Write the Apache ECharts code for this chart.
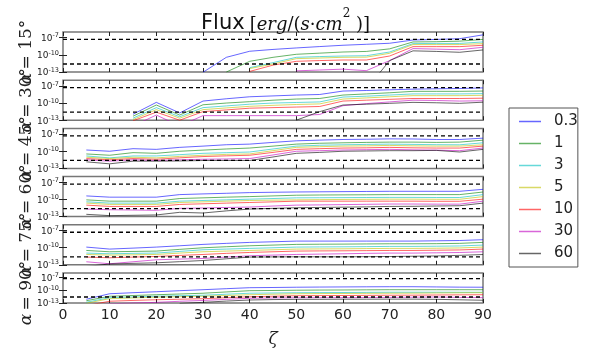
<!DOCTYPE html>
<html>
<head>
<meta charset="utf-8">
<script src="https://cdn.jsdelivr.net/npm/echarts@6/dist/echarts.min.js"></script>
<style>
  html, body { margin: 0; padding: 0; background: #fff; }
  #main { width: 598px; height: 349px; }
</style>
</head>
<body>
<div id="main"></div>
<script>
// zeta grid of the runs
var zeta = [5, 10, 15, 20, 25, 30, 35, 40, 45, 50, 55, 60, 65, 70, 75, 80, 85, 90];
var names = ['0.3', '1', '3', '5', '10', '30', '60'];
var colors = ['rgba(0,0,255,0.6)', 'rgba(0,128,0,0.6)', 'rgba(0,191,191,0.6)', 'rgba(191,191,0,0.6)',
              'rgba(255,0,0,0.6)', 'rgba(191,0,191,0.6)', 'rgba(0,0,0,0.6)'];
var alphas = [15, 30, 45, 60, 75, 90];
var yTicks = [1e-13, 1e-10, 1e-7];
var limits = [5e-8, 2.5e-12];   // dashed lines
var limitX = [0, 90];

// log10 of flux, one row per series (0.3, 1, 3, 5, 10, 30, 60), null = no point
var n = null;
var flux15 = [
  [n, n, n, n, n, -13.05, -10.43, -9.37, -9.05, -8.79, -8.55, -8.32, -8.15, -7.97, -7.4, -7.3, -7.17, -6.5],
  [n, n, n, n, n, n, -13.0, -11.13, -10.43, -9.9, -9.7, -9.5, -9.4, -8.95, -7.74, -7.7, -7.6, -7.3],
  [n, n, n, n, n, n, n, -12.24, -11.36, -10.43, -10.3, -10.2, -10.15, -9.5, -8.03, -8.0, -8.0, -7.74],
  [n, n, n, n, n, n, n, -12.4, -11.6, -10.66, -10.55, -10.43, -10.4, -9.73, -8.2, -8.2, -8.2, -8.03],
  [n, n, n, n, n, n, n, -12.9, -11.8, -11.13, -11.0, -10.9, -10.9, -10.2, -8.56, -8.56, -8.56, -8.32],
  [n, n, n, n, n, n, n, n, n, -12.8, -12.65, -12.5, -12.77, -11.0, -8.9, -9.0, -9.1, -8.67],
  [n, n, n, n, n, n, n, n, n, n, n, n, -16, -11.0, -9.3, -9.4, -9.55, -9.14]
];
var flux30 = [
  [n, n, -11.96, -9.88, -11.73, -9.65, -9.25, -8.9, -8.75, -8.6, -8.5, -7.9, -7.8, -7.68, -7.57, -7.5, -7.45, -7.35],
  [n, n, -12.3, -10.34, -12.1, -10.3, -10.0, -9.76, -9.5, -9.3, -9.2, -8.6, -8.4, -8.2, -7.95, -7.95, -7.95, -7.9],
  [n, n, -12.65, -10.8, -12.4, -10.8, -10.5, -10.2, -10.0, -9.9, -9.8, -8.95, -8.8, -8.6, -8.4, -8.4, -8.4, -8.35],
  [n, n, -12.9, -11.15, -12.65, -11.15, -10.85, -10.57, -10.4, -10.25, -10.15, -9.3, -9.1, -8.9, -8.7, -8.7, -8.7, -8.65],
  [n, n, -13.1, -11.6, -13.0, -11.5, -11.2, -10.9, -10.8, -10.7, -10.6, -9.65, -9.5, -9.35, -9.2, -9.2, -9.2, -9.15],
  [n, n, -14.0, -12.1, -14.0, -12.2, -12.2, -12.2, -12.2, -12.2, -12.0, -10.46, -10.1, -9.8, -9.5, -9.55, -9.65, -9.6],
  [n, n, n, n, n, n, n, n, n, -13.0, -11.5, -10.34, -10.2, -10.05, -9.88, -9.95, -10.05, -9.85]
];
var flux45 = [
  [-9.78, -10.0, -9.55, -9.67, -9.32, -9.1, -8.86, -8.75, -8.45, -8.17, -8.05, -7.94, -7.9, -7.83, -7.85, -7.94, -7.94, -7.71],
  [-10.47, -10.7, -10.24, -10.36, -10.0, -9.8, -9.6, -9.44, -9.1, -8.75, -8.6, -8.52, -8.45, -8.4, -8.4, -8.45, -8.4, -8.06],
  [-10.82, -11.16, -10.82, -10.82, -10.6, -10.36, -10.25, -10.13, -9.6, -9.1, -8.95, -8.87, -8.8, -8.75, -8.8, -8.85, -8.87, -8.52],
  [-11.05, -11.28, -11.05, -11.16, -10.9, -10.7, -10.55, -10.47, -9.9, -9.32, -9.2, -9.1, -9.05, -8.98, -9.05, -9.1, -9.1, -8.87],
  [-11.28, -11.5, -11.28, -11.4, -11.15, -10.93, -10.8, -10.7, -10.2, -9.67, -9.55, -9.44, -9.4, -9.32, -9.4, -9.44, -9.44, -9.1],
  [-11.5, -11.74, -11.5, -11.62, -11.5, -11.4, -11.35, -11.28, -10.65, -10.0, -9.9, -9.78, -9.72, -9.67, -9.75, -9.8, -9.9, -9.44],
  [-11.85, -12.2, -11.74, -11.74, -11.7, -11.62, -11.62, -11.62, -11.0, -10.36, -10.2, -10.0, -9.95, -9.9, -9.9, -9.85, -10.13, -9.67]
];
var flux60 = [
  [-9.38, -9.6, -9.6, -9.6, -9.15, -9.03, -8.92, -8.8, -8.74, -8.69, -8.66, -8.63, -8.6, -8.57, -8.57, -8.57, -8.57, -8.23],
  [-10.07, -10.3, -10.3, -10.3, -9.84, -9.72, -9.6, -9.5, -9.38, -9.26, -9.22, -9.2, -9.18, -9.15, -9.15, -9.15, -9.15, -8.7],
  [-10.41, -10.64, -10.64, -10.64, -10.3, -10.18, -10.07, -9.95, -9.84, -9.72, -9.7, -9.68, -9.66, -9.64, -9.64, -9.66, -9.66, -9.15],
  [-10.64, -10.87, -10.87, -10.87, -10.53, -10.42, -10.3, -10.18, -10.12, -10.07, -10.03, -10.0, -9.98, -9.95, -9.95, -9.97, -9.97, -9.5],
  [-10.99, -11.22, -11.22, -11.22, -10.87, -10.76, -10.64, -10.53, -10.42, -10.3, -10.3, -10.3, -10.3, -10.3, -10.3, -10.32, -10.32, -9.95],
  [-11.68, -11.8, -11.85, -11.9, -11.56, -11.5, -11.4, -11.33, -11.15, -10.99, -10.95, -10.9, -10.85, -10.8, -10.8, -10.82, -10.82, -10.3],
  [-12.6, -12.83, -12.77, -12.71, -12.25, -12.37, -12.0, -11.68, -11.56, -11.45, -11.4, -11.35, -11.3, -11.22, -11.2, -11.15, -11.1, -10.64]
];
var flux75 = [
  [-9.9, -10.25, -10.08, -9.9, -9.67, -9.43, -9.25, -9.08, -8.97, -8.85, -8.85, -8.85, -8.85, -8.85, -8.85, -8.8, -8.75, -8.61],
  [-10.49, -10.72, -10.66, -10.6, -10.3, -10.02, -9.84, -9.67, -9.55, -9.43, -9.4, -9.38, -9.35, -9.32, -9.32, -9.3, -9.25, -9.08],
  [-10.95, -11.07, -11.0, -10.95, -10.66, -10.37, -10.25, -10.13, -10.02, -9.9, -9.87, -9.85, -9.82, -9.78, -9.78, -9.75, -9.7, -9.55],
  [-11.19, -11.3, -11.25, -11.19, -10.95, -10.72, -10.6, -10.49, -10.37, -10.25, -10.22, -10.2, -10.16, -10.13, -10.13, -10.1, -10.05, -9.9],
  [-11.65, -11.77, -11.65, -11.54, -11.36, -11.19, -11.0, -10.84, -10.72, -10.6, -10.57, -10.55, -10.52, -10.49, -10.49, -10.45, -10.4, -10.25],
  [-12.47, -12.82, -12.47, -12.12, -12.0, -11.89, -11.65, -11.42, -11.3, -11.19, -11.13, -11.07, -11.0, -10.95, -10.95, -10.9, -10.85, -10.72],
  [-13.3, -12.85, -12.75, -12.65, -12.45, -12.25, -11.95, -11.65, -11.62, -11.6, -11.6, -11.6, -11.58, -11.55, -11.5, -11.45, -11.35, -11.2]
];
var flux90 = [
  [-12.12, -10.84, -10.6, -10.37, -10.13, -9.9, -9.66, -9.43, -9.38, -9.32, -9.28, -9.25, -9.22, -9.2, -9.2, -9.25, -9.3, -9.32],
  [-12.47, -11.42, -11.25, -11.07, -10.9, -10.72, -10.42, -10.13, -10.08, -10.02, -9.98, -9.96, -9.93, -9.9, -9.9, -9.9, -9.9, -9.9],
  [-12.82, -11.77, -11.6, -11.42, -11.3, -11.19, -10.95, -10.72, -10.66, -10.6, -10.57, -10.55, -10.52, -10.49, -10.49, -10.49, -10.5, -10.5],
  [-13.06, -11.99, -11.82, -11.65, -11.53, -11.42, -11.25, -11.07, -10.95, -10.84, -10.8, -10.78, -10.75, -10.72, -10.7, -10.66, -10.62, -10.6],
  [-13.6, -12.59, -12.4, -12.24, -12.12, -12.0, -11.77, -11.54, -11.42, -11.3, -11.27, -11.25, -11.22, -11.19, -11.17, -11.13, -11.1, -11.07],
  [-13.8, -13.2, -13.0, -12.85, -12.6, -12.4, -12.15, -11.9, -11.82, -11.77, -11.75, -11.75, -11.72, -11.7, -11.65, -11.6, -11.7, -11.75],
  [n, n, n, n, -13.1, -12.85, -12.55, -12.3, -12.2, -12.15, -12.15, -12.12, -12.12, -12.1, -12.1, -12.15, -12.25, -12.36]
];
var panels = [flux15, flux30, flux45, flux60, flux75, flux90];

var chart = echarts.init(document.getElementById('main'));

var panelTop = 32, panelStep = 48.2, panelH = 40;
var grids = [], xAxes = [], yAxes = [], series = [], labels = [];
var tickStyle = { show: true, inside: true, length: 4, lineStyle: { color: '#222' } };

for (var i = 0; i < panels.length; i++) {
    var last = i === panels.length - 1;
    var panelY = panelTop + i * panelStep;
    grids.push({
        left: 63, right: 115, top: panelY, height: panelH,
        show: true, borderColor: '#777', borderWidth: 1.5, backgroundColor: 'transparent'
    });
    // alpha label, rotated, left of each panel
    labels.push({
        type: 'text', x: 27, y: panelY + panelH / 2, rotation: Math.PI / 2,
        style: {
            text: '{a|α} {b|= ' + alphas[i] + '°}',
            rich: {
                a: { fontFamily: 'DejaVu Serif', fontStyle: 'italic', fontSize: 17, fill: '#222' },
                b: { fontFamily: 'DejaVu Serif', fontSize: 17, fill: '#222' }
            },
            align: 'center', verticalAlign: 'middle'
        }
    });
    // bottom and top x axes (ticks on both sides)
    xAxes.push({
        gridIndex: i, type: 'value', min: 0, max: 90, interval: 10,
        axisLine: { show: false }, splitLine: { show: false },
        axisTick: tickStyle,
        axisLabel: { show: last, margin: 5, fontSize: 14, color: '#222', fontFamily: 'DejaVu Sans',
                     showMinLabel: true, showMaxLabel: true },
        name: last ? 'ζ' : '', nameLocation: 'middle', nameGap: 28,
        nameTextStyle: { fontFamily: 'DejaVu Serif', fontStyle: 'italic', fontSize: 17, color: '#222' }
    });
    xAxes.push({
        gridIndex: i, type: 'value', min: 0, max: 90, interval: 10, position: 'top',
        axisLine: { show: false }, splitLine: { show: false },
        axisTick: tickStyle, axisLabel: { show: false }
    });
    yAxes.push({
        gridIndex: i, type: 'log', logBase: 10, min: 1e-13, max: 1e-6,
        axisLine: { show: false }, splitLine: { show: false },
        axisTick: { show: true, inside: true, length: 4, customValues: yTicks, lineStyle: { color: '#222' } },
        axisLabel: {
            customValues: yTicks, margin: 4, showMinLabel: true, showMaxLabel: true,
            formatter: function (v) {
                return '{b|10}{s|' + Math.round(Math.log10(v)) + '}';
            },
            rich: {
                b: { fontSize: 9, fontFamily: 'DejaVu Sans', color: '#222', verticalAlign: 'bottom', lineHeight: 11 },
                s: { fontSize: 6.5, fontFamily: 'DejaVu Sans', color: '#222', verticalAlign: 'top', lineHeight: 11 }
            }
        }
    });
    yAxes.push({
        gridIndex: i, type: 'log', logBase: 10, min: 1e-13, max: 1e-6, position: 'right',
        axisLine: { show: false }, splitLine: { show: false },
        axisTick: { show: true, inside: true, length: 4, customValues: yTicks, lineStyle: { color: '#222' } },
        axisLabel: { show: false }
    });

    for (var j = 0; j < names.length; j++) {
        var row = panels[i][j];
        series.push({
            name: names[j], type: 'line',
            xAxisIndex: 2 * i, yAxisIndex: 2 * i,
            showSymbol: false, symbol: 'none', animation: false,
            color: colors[j],
            lineStyle: { width: 1, color: colors[j] },
            data: zeta.map(function (z, k) {
                return [z, row[k] === null ? '-' : Math.pow(10, row[k])];
            })
        });
    }
    // dashed reference levels
    limits.forEach(function (v) {
        series.push({
            name: 'limit', type: 'line',
            xAxisIndex: 2 * i, yAxisIndex: 2 * i,
            showSymbol: false, symbol: 'none', animation: false, silent: true,
            lineStyle: { width: 1.3, color: '#000', type: [4, 3] },
            data: limitX.map(function (x) { return [x, v]; })
        });
    });
}

chart.setOption({
    backgroundColor: '#fff',
    animation: false,
    title: {
        text: '{f|Flux} {m|[}{i|erg}{m|/(}{i|s}{m|·}{i|cm}{p|2}{m| )]}',
        left: 196, top: 3,
        textStyle: {
            fontWeight: 'normal',
            rich: {
                f: { fontFamily: 'DejaVu Sans', fontWeight: 'normal', fontSize: 21, color: '#111', verticalAlign: 'bottom', lineHeight: 26 },
                m: { fontFamily: 'DejaVu Serif', fontWeight: 'normal', fontSize: 18, color: '#111', verticalAlign: 'bottom', lineHeight: 26 },
                i: { fontFamily: 'DejaVu Serif', fontWeight: 'normal', fontStyle: 'italic', fontSize: 18, color: '#111', verticalAlign: 'bottom', lineHeight: 26 },
                p: { fontFamily: 'DejaVu Serif', fontWeight: 'normal', fontSize: 12, color: '#111', verticalAlign: 'top', lineHeight: 26 }
            }
        }
    },
    legend: {
        data: names, orient: 'vertical', left: 509, top: 108,
        icon: 'rect', itemWidth: 22, itemHeight: 1.5, itemGap: 7,
        padding: [6, 0, 6, 10],
        borderColor: '#555', borderWidth: 1, backgroundColor: '#fff',
        textStyle: { fontSize: 15, fontFamily: 'DejaVu Sans', color: '#222', lineHeight: 15, padding: [0, 0, 0, 8] }
    },
    graphic: labels,
    grid: grids,
    xAxis: xAxes,
    yAxis: yAxes,
    series: series
});
</script>
</body>
</html>
